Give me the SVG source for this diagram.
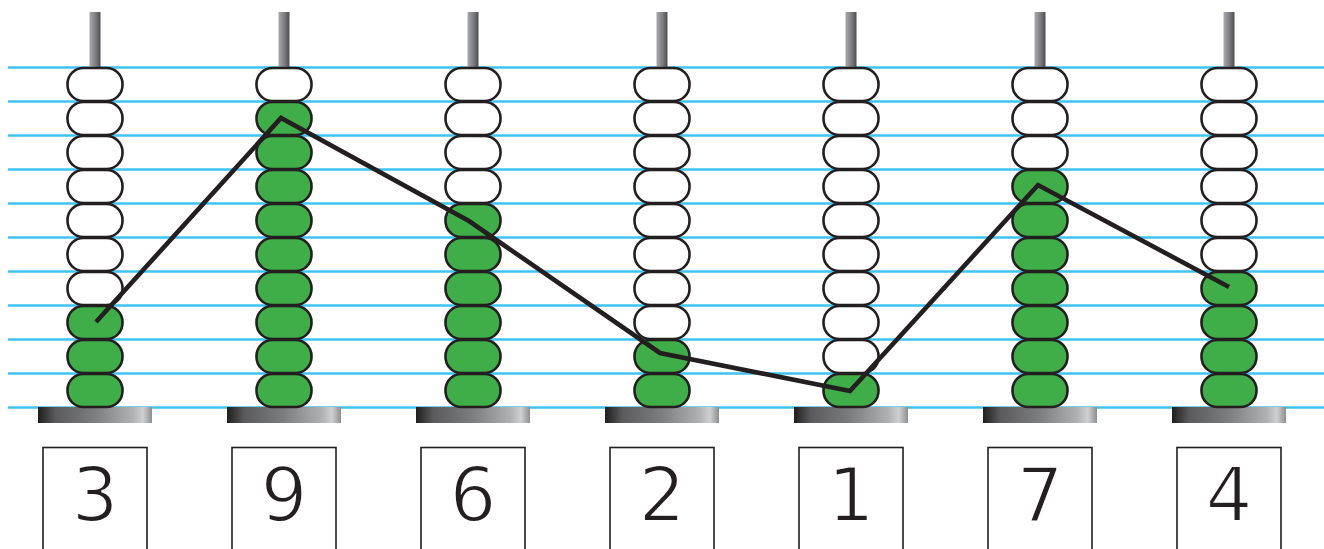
<svg xmlns="http://www.w3.org/2000/svg" width="1324" height="549" viewBox="0 0 1324 549">
<defs>
<linearGradient id="rodG" x1="0" y1="0" x2="1" y2="0">
<stop offset="0" stop-color="#a7a9ac"/>
<stop offset="0.5" stop-color="#808285"/>
<stop offset="1" stop-color="#4d4d4f"/>
</linearGradient>
<linearGradient id="baseG" x1="0" y1="0" x2="1" y2="0">
<stop offset="0" stop-color="#1e1e1e"/>
<stop offset="0.15" stop-color="#5a5a5c"/>
<stop offset="0.5" stop-color="#7d7e80"/>
<stop offset="0.83" stop-color="#b0b1b3"/>
<stop offset="0.92" stop-color="#cfd0d1"/>
<stop offset="1" stop-color="#8d8e90"/>
</linearGradient>
<rect id="bead" x="-27.5" y="0" width="55" height="33" rx="16" ry="16"/>
</defs>
<style>
.grid line{stroke:#3fc3f0;stroke-width:2.5}
.rod{fill:url(#rodG)}
.base{fill:url(#baseG)}
.w{fill:#ffffff;stroke:#231f20;stroke-width:2.6}
.g{fill:#3fae49;stroke:#231f20;stroke-width:2.6}
.box{fill:#ffffff;stroke:#231f20;stroke-width:1.6}
.num{font-family:"DejaVu Sans","Liberation Sans",sans-serif;font-size:74px;fill:#231f20;stroke:#ffffff;stroke-width:2;text-anchor:middle}
.conn{fill:none;stroke:#231f20;stroke-width:4.6;stroke-linejoin:miter}
</style>
<rect width="1324" height="549" fill="#ffffff"/>
<g class="grid">
<line x1="8" y1="67.5" x2="1324" y2="67.5"/>
<line x1="8" y1="101.5" x2="1324" y2="101.5"/>
<line x1="8" y1="135.5" x2="1324" y2="135.5"/>
<line x1="8" y1="169.5" x2="1324" y2="169.5"/>
<line x1="8" y1="203.5" x2="1324" y2="203.5"/>
<line x1="8" y1="237.5" x2="1324" y2="237.5"/>
<line x1="8" y1="271.5" x2="1324" y2="271.5"/>
<line x1="8" y1="305.5" x2="1324" y2="305.5"/>
<line x1="8" y1="339.5" x2="1324" y2="339.5"/>
<line x1="8" y1="373.5" x2="1324" y2="373.5"/>
<line x1="8" y1="407.5" x2="1324" y2="407.5"/>
</g>
<g id="col1" transform="translate(95,0)">
<rect class="rod" x="-5.5" y="12" width="11" height="60"/>
<rect class="base" x="-57" y="407" width="114" height="16"/>
<use href="#bead" class="w" y="68"/><use href="#bead" class="w" y="102"/><use href="#bead" class="w" y="136"/><use href="#bead" class="w" y="170"/><use href="#bead" class="w" y="204"/><use href="#bead" class="w" y="238"/><use href="#bead" class="w" y="272"/>
<use href="#bead" class="g" y="306"/><use href="#bead" class="g" y="340"/><use href="#bead" class="g" y="374"/>
<rect class="box" x="-52" y="447.5" width="104" height="110"/>
<text class="num" x="0" y="521">3</text>
</g>
<g id="col2" transform="translate(284,0)">
<rect class="rod" x="-5.5" y="12" width="11" height="60"/>
<rect class="base" x="-57" y="407" width="114" height="16"/>
<use href="#bead" class="w" y="68"/>
<use href="#bead" class="g" y="102"/><use href="#bead" class="g" y="136"/><use href="#bead" class="g" y="170"/><use href="#bead" class="g" y="204"/><use href="#bead" class="g" y="238"/><use href="#bead" class="g" y="272"/><use href="#bead" class="g" y="306"/><use href="#bead" class="g" y="340"/><use href="#bead" class="g" y="374"/>
<rect class="box" x="-52" y="447.5" width="104" height="110"/>
<text class="num" x="0" y="521">9</text>
</g>
<g id="col3" transform="translate(473,0)">
<rect class="rod" x="-5.5" y="12" width="11" height="60"/>
<rect class="base" x="-57" y="407" width="114" height="16"/>
<use href="#bead" class="w" y="68"/><use href="#bead" class="w" y="102"/><use href="#bead" class="w" y="136"/><use href="#bead" class="w" y="170"/>
<use href="#bead" class="g" y="204"/><use href="#bead" class="g" y="238"/><use href="#bead" class="g" y="272"/><use href="#bead" class="g" y="306"/><use href="#bead" class="g" y="340"/><use href="#bead" class="g" y="374"/>
<rect class="box" x="-52" y="447.5" width="104" height="110"/>
<text class="num" x="0" y="521">6</text>
</g>
<g id="col4" transform="translate(662,0)">
<rect class="rod" x="-5.5" y="12" width="11" height="60"/>
<rect class="base" x="-57" y="407" width="114" height="16"/>
<use href="#bead" class="w" y="68"/><use href="#bead" class="w" y="102"/><use href="#bead" class="w" y="136"/><use href="#bead" class="w" y="170"/><use href="#bead" class="w" y="204"/><use href="#bead" class="w" y="238"/><use href="#bead" class="w" y="272"/><use href="#bead" class="w" y="306"/>
<use href="#bead" class="g" y="340"/><use href="#bead" class="g" y="374"/>
<rect class="box" x="-52" y="447.5" width="104" height="110"/>
<text class="num" x="0" y="521">2</text>
</g>
<g id="col5" transform="translate(851,0)">
<rect class="rod" x="-5.5" y="12" width="11" height="60"/>
<rect class="base" x="-57" y="407" width="114" height="16"/>
<use href="#bead" class="w" y="68"/><use href="#bead" class="w" y="102"/><use href="#bead" class="w" y="136"/><use href="#bead" class="w" y="170"/><use href="#bead" class="w" y="204"/><use href="#bead" class="w" y="238"/><use href="#bead" class="w" y="272"/><use href="#bead" class="w" y="306"/><use href="#bead" class="w" y="340"/>
<use href="#bead" class="g" y="374"/>
<rect class="box" x="-52" y="447.5" width="104" height="110"/>
<text class="num" x="0" y="521">1</text>
</g>
<g id="col6" transform="translate(1040,0)">
<rect class="rod" x="-5.5" y="12" width="11" height="60"/>
<rect class="base" x="-57" y="407" width="114" height="16"/>
<use href="#bead" class="w" y="68"/><use href="#bead" class="w" y="102"/><use href="#bead" class="w" y="136"/>
<use href="#bead" class="g" y="170"/><use href="#bead" class="g" y="204"/><use href="#bead" class="g" y="238"/><use href="#bead" class="g" y="272"/><use href="#bead" class="g" y="306"/><use href="#bead" class="g" y="340"/><use href="#bead" class="g" y="374"/>
<rect class="box" x="-52" y="447.5" width="104" height="110"/>
<text class="num" x="0" y="521">7</text>
</g>
<g id="col7" transform="translate(1229,0)">
<rect class="rod" x="-5.5" y="12" width="11" height="60"/>
<rect class="base" x="-57" y="407" width="114" height="16"/>
<use href="#bead" class="w" y="68"/><use href="#bead" class="w" y="102"/><use href="#bead" class="w" y="136"/><use href="#bead" class="w" y="170"/><use href="#bead" class="w" y="204"/><use href="#bead" class="w" y="238"/>
<use href="#bead" class="g" y="272"/><use href="#bead" class="g" y="306"/><use href="#bead" class="g" y="340"/><use href="#bead" class="g" y="374"/>
<rect class="box" x="-52" y="447.5" width="104" height="110"/>
<text class="num" x="0" y="521">4</text>
</g>
<g id="connectors">
<polyline class="conn" points="96,322 281,118 469,221 660,353 850,391 1038,185 1229,287"/>
</g>
</svg>
